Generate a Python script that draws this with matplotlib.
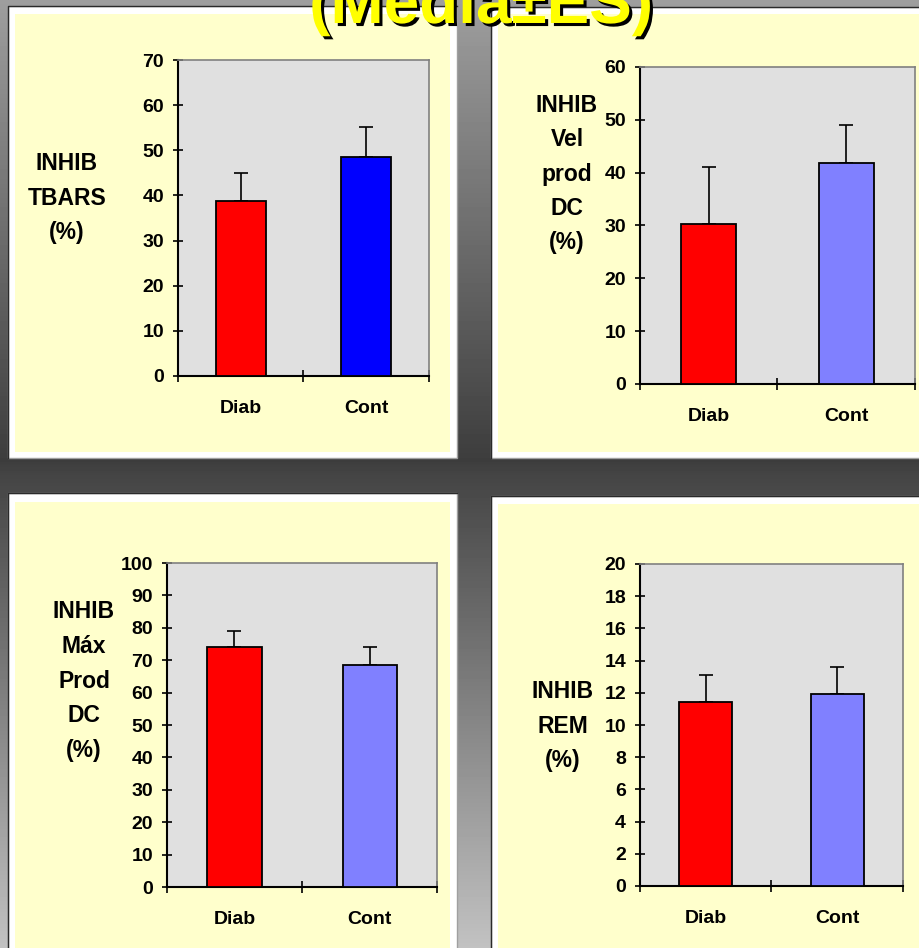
import numpy as np
import matplotlib
matplotlib.use("Agg")
from matplotlib import pyplot as plt
from matplotlib.patches import Rectangle
import matplotlib.patheffects as pe

plt.rcParams['font.family'] = ['Liberation Sans', 'DejaVu Sans']
plt.rcParams['font.weight'] = 'bold'

categories = ['Diab', 'Cont']

tbars_mean = [38.8, 48.5]
tbars_err = [6.2, 6.6]
vel_mean = [30.2, 41.9]
vel_err = [10.9, 7.2]
max_mean = [74.0, 68.5]
max_err = [4.9, 5.6]
rem_mean = [11.4, 11.9]
rem_err = [1.7, 1.7]

tbars_label = ['INHIB', 'TBARS', '(%)']
vel_label = ['INHIB', 'Vel', 'prod', 'DC', '(%)']
max_label = ['INHIB', 'Máx', 'Prod', 'DC', '(%)']
rem_label = ['INHIB', 'REM', '(%)']

title = '(Media±ES)'

W, H = 920, 948
fig = plt.figure(figsize=(W / 100, H / 100), dpi=100)

# background + panel frames, drawn in pixel coords (y down)
bg = fig.add_axes([0, 0, 1, 1])
bg.set_xlim(0, W)
bg.set_ylim(H, 0)
bg.axis('off')
yy = np.arange(H)
shade = np.interp(yy, [0, 460, 475, H], [0.62, 0.24, 0.27, 0.76])
grad = np.repeat(shade[:, None], 4, axis=1)
bg.imshow(grad, cmap='gray', vmin=0, vmax=1, extent=[0, W, H, 0], aspect='auto', zorder=0)


def frame(x0, y0, x1, y1, ix0, iy0, ix1, iy1):
    bg.add_patch(Rectangle((x0, y0), x1 - x0, y1 - y0, facecolor='white',
                           edgecolor='#a0a0a0', linewidth=1, zorder=1))
    bg.plot([x0, x0, x1], [y1, y0, y0], color='#2a2a2a', linewidth=1, zorder=2)
    bg.add_patch(Rectangle((ix0, iy0), ix1 - ix0, iy1 - iy0, facecolor='#FFFFCC',
                           edgecolor='none', zorder=2))


frame(8, 6, 457, 458, 15, 14, 450, 452)
frame(491, 7, 930, 458, 498, 14, 930, 452)
frame(8, 493, 457, 960, 15, 502, 450, 960)
frame(491, 496, 930, 960, 498, 504, 930, 960)


def panel(box, means, errs, cont_color, ymax, ystep, lines, lx, ly):
    left, top, right, bottom = box
    ax = fig.add_axes([left / W, 1 - bottom / H, (right - left) / W, (bottom - top) / H])
    ax.set_facecolor('#E0E0E0')
    x = np.arange(len(categories))
    ax.bar(x, means, width=0.4, color=['#FF0000', cont_color],
           edgecolor='black', linewidth=1.3, zorder=3)
    ax.errorbar(x, means, yerr=[np.zeros(len(errs)), errs], fmt='none',
                ecolor='black', elinewidth=1.2, capsize=5, capthick=1.2, zorder=2)
    ax.set_xlim(-0.5, 1.5)
    ax.set_ylim(0, ymax)
    ax.set_yticks(np.arange(0, ymax + 1, ystep))
    ax.set_xticks(x)
    ax.set_xticklabels(categories)
    ax.set_xticks([-0.5, 0.5, 1.5], minor=True)
    ax.tick_params(axis='y', direction='inout', length=7, width=1.2, pad=6.5,
                   labelsize=14)
    ax.tick_params(axis='x', which='major', length=0, pad=17, labelsize=14)
    ax.tick_params(axis='x', which='minor', direction='inout', length=8.5, width=1.2)
    for s in ['left', 'bottom']:
        ax.spines[s].set_color('black')
        ax.spines[s].set_linewidth(1.5)
    for s in ['top', 'right']:
        ax.spines[s].set_color('#808080')
        ax.spines[s].set_linewidth(1.2)
    for i, line in enumerate(lines):
        fig.text(lx / W, 1 - (ly + i * 34.5) / H, line, ha='center', va='baseline',
                 fontsize=16.5, fontweight='bold', color='black')
    return ax


panel((178, 60, 429, 376), tbars_mean, tbars_err, '#0000FF', 70, 10, tbars_label, 67, 170.5)
panel((640, 67, 915, 384), vel_mean, vel_err, '#8080FF', 60, 10, vel_label, 567, 111.5)
panel((167, 563, 437, 887), max_mean, max_err, '#8080FF', 100, 10, max_label, 84, 618.5)
panel((640, 564, 903, 886), rem_mean, rem_err, '#8080FF', 20, 2, rem_label, 563, 698.5)

fig.text(481 / W, 1 - 23 / H, title, ha='center', va='baseline', fontsize=46,
         fontweight='bold', color='#FFFF00', zorder=10,
         path_effects=[pe.withSimplePatchShadow(offset=(2.2, -2.2),
                                                shadow_rgbFace='black', alpha=1)])

fig.savefig('out.png', dpi=100)
